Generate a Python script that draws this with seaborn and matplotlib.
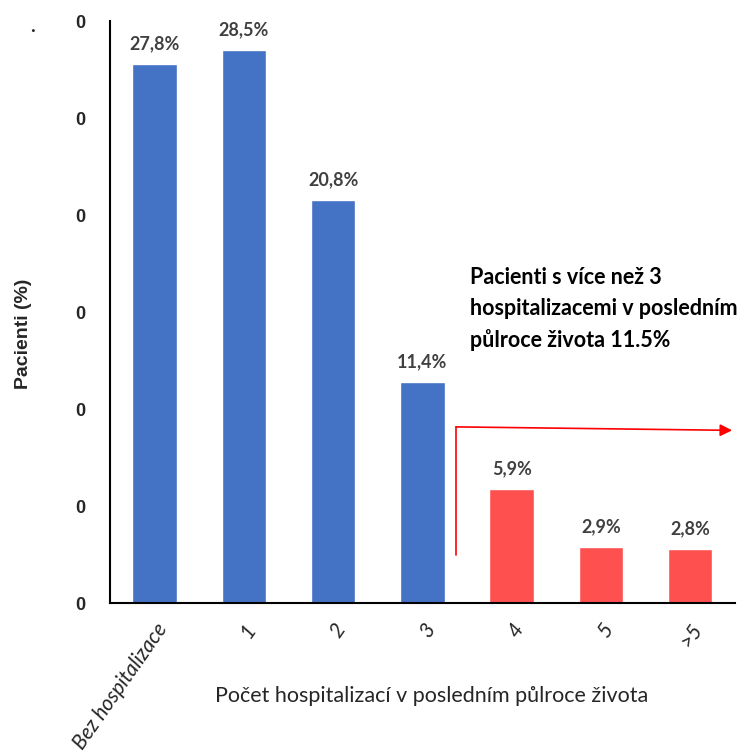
import matplotlib
matplotlib.use("Agg")
import matplotlib.pyplot as plt
import seaborn as sns
import pandas as pd
from matplotlib.ticker import FuncFormatter

# Share of patients by number of hospitalisations in the last six months of life
categories = ["Bez hospitalizace", "1", "2", "3", "4", "5", ">5"]
shares = [0.278, 0.285, 0.208, 0.114, 0.059, 0.029, 0.028]
value_labels = ["27,8%", "28,5%", "20,8%", "11,4%", "5,9%", "2,9%", "2,8%"]
bar_colors = ["#4472C4"] * 4 + ["#FF5050"] * 3

df = pd.DataFrame({"kategorie": categories, "podil": shares})

sns.set_style("white")
plt.rcParams["font.family"] = ["Lato", "DejaVu Sans"]

fig = plt.figure(figsize=(7.46, 7.53), dpi=100)
ax = fig.add_axes([0.1475, 0.1992, 0.8375, 0.7728])

sns.barplot(data=df, x="kategorie", y="podil", hue="kategorie",
            palette=dict(zip(categories, bar_colors)), legend=False,
            width=0.5, ax=ax, saturation=1)

ax.set_ylim(0, 0.30)
ax.set_xlim(-0.5, len(categories) - 0.5)
ax.set_yticks([0, 0.05, 0.10, 0.15, 0.20, 0.25, 0.30])
ax.yaxis.set_major_formatter(FuncFormatter(lambda v, p: f"{v:.0f}"))
ax.tick_params(axis="both", length=0)
for lbl in ax.get_yticklabels():
    lbl.set_fontfamily(["Liberation Sans", "DejaVu Sans"])
    lbl.set_fontweight("bold")
    lbl.set_fontsize(13)
ax.tick_params(axis="y", pad=18)

ax.set_xticks(range(len(categories)))
ax.set_xticklabels(categories, rotation=55, ha="right", rotation_mode="anchor",
                   fontsize=15, fontstyle="italic")
ax.tick_params(axis="x", pad=12)

for side in ("top", "right"):
    ax.spines[side].set_visible(False)
for side in ("left", "bottom"):
    ax.spines[side].set_color("black")
    ax.spines[side].set_linewidth(1.5)

# Value labels above bars
for i, (v, t) in enumerate(zip(shares, value_labels)):
    ax.text(i, v + 0.006, t, ha="center", va="bottom", fontsize=13,
            fontweight="bold", color="#404040")

ax.set_ylabel("Pacienti (%)", fontsize=14, fontweight="bold",
              fontfamily=["Liberation Sans", "DejaVu Sans"])
ax.yaxis.set_label_coords(-0.125, 0.462)
ax.set_xlabel("Počet hospitalizací v posledním půlroce života", fontsize=15.5)
ax.xaxis.set_label_coords(0.515, -0.142)

# Bracket arrow marking patients with more than 3 hospitalisations
ax.plot([3.375, 3.375], [0.0245, 0.0908], color="red", lw=1.2, clip_on=False)
ax.annotate("", xy=(6.47, 0.089), xytext=(3.375, 0.0908),
            arrowprops=dict(arrowstyle="-|>", color="red", lw=1.2,
                            mutation_scale=18, shrinkA=0, shrinkB=0),
            annotation_clip=False)

ax.text(3.53, 0.173, "Pacienti s více než 3\nhospitalizacemi v posledním\npůlroce života 11.5%",
        ha="left", va="top", fontsize=15.5, fontweight="bold", linespacing=1.55,
        color="black")

fig.text(0.04, 0.958, ".", fontsize=14, fontweight="bold")

fig.savefig("out.png", dpi=100)
